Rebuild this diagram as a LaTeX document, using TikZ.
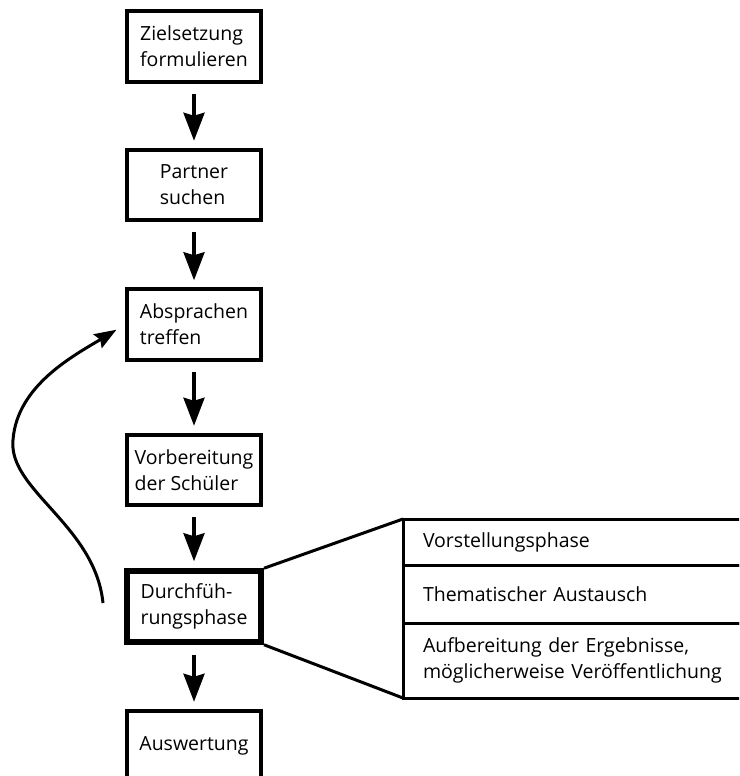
\documentclass[tikz,border=0pt]{standalone}
\usepackage{fontspec}
\setmainfont{Open Sans}
\usetikzlibrary{arrows.meta,positioning}

\begin{document}
\begin{tikzpicture}[
    x=1pt, y=-1pt,
    node distance=64pt,
    font=\fontsize{19.5}{26}\selectfont,
    block/.style={
        rectangle,
        draw,
        line width=4pt,
        minimum width=134pt,
        minimum height=70.5pt,
        align=left,
        inner sep=0pt
    },
    mainblock/.style={
        block,
        line width=6pt
    },
    phase/.style={
        rectangle,
        draw,
        line width=3pt,
        outer sep=0pt,
        anchor=north west,
        text width=320pt,
        inner xsep=20pt,
        inner ysep=0pt,
        align=left
    },
    line/.style={
        draw, -{Stealth[length=28pt,width=21pt,inset=3pt]}, line width=3.5pt,
        shorten <=10pt, shorten >=7pt
    },
    loopline/.style={
        draw, -{Stealth[length=22pt,width=16pt,inset=3pt]}, line width=3pt,
        shorten >=10pt
    },
    fanline/.style={
        draw, line width=3pt
    }
]
    \useasboundingbox (0,0) rectangle (739,776);
    \clip (0,0) rectangle (739,776);

    % Nodes
    \node [block] (ziel) at (194,46.5) {Zielsetzung\\formulieren};
    \node [block, below=64pt of ziel] (partner) {Partner\\suchen};
    \node [block, below=65pt of partner] (abspr) {Absprachen\\treffen};
    \node [block, below=71pt of abspr] (vorb) {Vorbereitung\\der Schüler};
    \node [mainblock, below=61pt of vorb] (durch) {Durchfüh-\\rungsphase};
    \node [block, below=64pt of durch] (ausw) {Auswertung};

    \node [phase, minimum height=46pt] (vorst) at (403,519) {Vorstellungsphase};
    \node [phase, minimum height=58pt] (thema) at (vorst.south west) {Thematischer Austausch};
    \node [phase, minimum height=75pt] (aufb) at (thema.south west) {Aufbereitung der Ergebnisse,\\möglicherweise Veröffentlichung};

    \coordinate (loopstart) at (103,603);

    % Edges
    \path [line] (ziel) -- (partner);
    \path [line] (partner) -- (abspr);
    \path [line] (abspr) -- (vorb);
    \path [line] (vorb) -- (durch);
    \path [line] (durch) -- (ausw);

    \path [fanline] (durch.north east) -- (vorst.north west);
    \path [fanline] (durch.south east) -- (aufb.south west);

    \path [loopline] (loopstart) .. controls (95,525) and (8,490) .. (13,440)
        .. controls (17,385) and (75,355) .. (abspr.west);

\end{tikzpicture}
\end{document}
